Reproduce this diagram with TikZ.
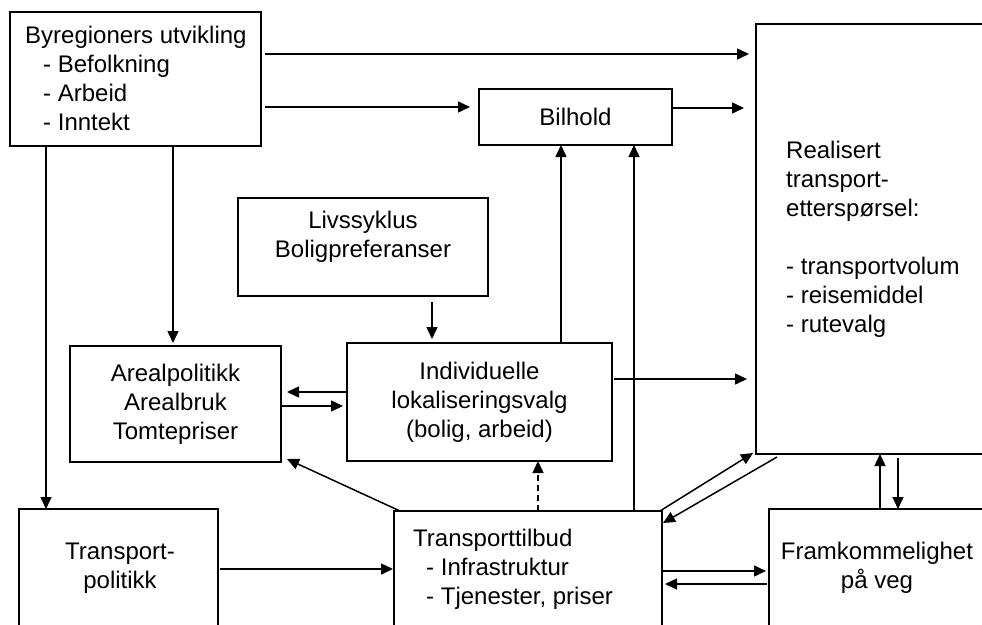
\documentclass[tikz,border=0pt]{standalone}
\usepackage{fontspec}
\setmainfont{Liberation Sans}
\usetikzlibrary{calc,arrows.meta}
\tikzset{
  box/.style={draw, line width=1.3pt, inner sep=0pt, outer sep=0pt, anchor=north west},
  txt/.style={font=\fontsize{24}{29}\selectfont, inner sep=0pt},
  arr/.style={-{Triangle[length=12pt,width=11pt]}, line width=1.5pt},
  dasharr/.style={arr, dash pattern=on 6pt off 4pt}
}
\begin{document}
\begin{tikzpicture}[x=1pt,y=-1pt]
\clip (0,0) rectangle (982,624);
\fill[white] (0,0) rectangle (982,624);
% boxes
\node[box, minimum width=251pt, minimum height=134pt] (byr) at (10,12) {};
\node[box, txt, minimum width=193pt, minimum height=56pt] (bil) at (479,89) {Bilhold};
\node[box, minimum width=270pt, minimum height=430pt] (real) at (756,24) {};
\node[box, minimum width=250pt, minimum height=98pt] (liv) at (238,198) {};
\node[box, txt, align=center, minimum width=211pt, minimum height=116pt] (are) at (70,346) {Arealpolitikk\\Arealbruk\\Tomtepriser};
\node[box, txt, align=center, minimum width=265pt, minimum height=118pt] (ind) at (347,343) {Individuelle\\lokaliseringsvalg\\(bolig, arbeid)};
\node[box, minimum width=199pt, minimum height=140pt] (tp) at (19,509) {};
\node[box, minimum width=268pt, minimum height=140pt] (tt) at (394,511) {};
\node[box, minimum width=260pt, minimum height=140pt] (fr) at (769,509) {};
% texts (anchor = baseline of the last line)
\node[txt, anchor=base west, align=left] (byrt) at (25,130) {Byregioners utvikling\\\hspace*{18pt}- Befolkning\\\hspace*{18pt}- Arbeid\\\hspace*{18pt}- Inntekt};
\node[txt, anchor=base, align=center] (livt) at (363,257) {Livssyklus\\Boligpreferanser};
\node[txt, anchor=base west, align=left] (realt) at (786,332) {Realisert\\transport-\\etterspørsel:\\ \\- transportvolum\\- reisemiddel\\- rutevalg};
\node[txt, anchor=base west, align=left] (ttt) at (413,604) {Transporttilbud\\\hspace*{13pt}- Infrastruktur\\\hspace*{13pt}- Tjenester, priser};
\node[txt, anchor=base, align=center] (tpt) at (120,588) {Transport-\\politikk};
\node[txt, anchor=base, align=center] (frt) at (877,588) {Framkommelighet\\på veg};
% arrows
\draw[arr] ($(byr.north east)+(4,42)$) -- ($(real.north west)+(-7,30)$);
\draw[arr] ($(byr.north east)+(4,95)$) -- ($(bil.west)+(-9,-10)$);
\draw[arr] ($(bil.east)+(0,-9)$) -- ($(real.north west)+(-12,84)$);
\draw[arr] ($(byr.south west)+(36,0)$) -- ($(tp.north west)+(27,0)$);
\draw[arr] ($(byr.south west)+(163,0)$) -- ($(are.north west)+(103,-3)$);
\draw[arr] ($(liv.south west)+(194,6)$) -- ($(ind.north west)+(85,-4)$);
\draw[arr] ($(ind.north west)+(0,49)$) -- ($(are.north east)+(6,46)$);
\draw[arr] ($(are.north east)+(0,60)$) -- ($(ind.north west)+(-4,63)$);
\draw[arr] ($(ind.north west)+(214,0)$) -- ($(bil.south west)+(82,0)$);
\draw[arr] ($(tt.north west)+(240,0)$) -- ($(bil.south west)+(155,0)$);
\draw[arr] ($(ind.north east)+(2,36)$) -- ($(real.north west)+(-9,355)$);
\draw[arr] ($(tt.north west)+(6,0)$) -- ($(are.south east)+(6,-3)$);
\draw[dasharr] ($(tt.north west)+(144,0)$) -- ($(ind.south west)+(191,0)$);
\draw[arr] ($(tp.north east)+(2,60)$) -- ($(tt.north west)+(-1,58)$);
\draw[arr] ($(tt.north east)+(-2,0)$) -- ($(real.south west)+(-3,-1)$);
\draw[arr] ($(real.south west)+(21,3)$) -- ($(tt.north east)+(1,12)$);
\draw[arr] ($(tt.north east)+(1,60)$) -- ($(fr.north west)+(-3,62)$);
\draw[arr] ($(fr.north west)+(-2,75)$) -- ($(tt.north east)+(3,73)$);
\draw[arr] ($(fr.north west)+(111,0)$) -- ($(real.south west)+(124,0)$);
\draw[arr] ($(real.south west)+(142,4)$) -- ($(fr.north west)+(129,0)$);
\end{tikzpicture}
\end{document}
